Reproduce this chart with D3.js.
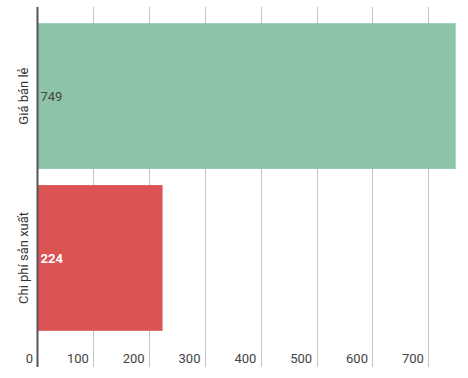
<!DOCTYPE html>
<html>
<head>
<meta charset="utf-8">
<script src="https://cdn.jsdelivr.net/npm/d3@7"></script>
<style>
  body { margin: 0; background: #fff; }
  svg { display: block; font-family: Roboto, sans-serif; }
</style>
</head>
<body>
<div id="chart"></div>
<script>
// data
const categories = ["Giá bán lẻ", "Chi phí sản xuất"];
const values = [749, 224];
const barColors = ["#8dc4a8", "#dc5353"];
const labelColors = ["#444", "#fff"];
const labelWeights = ["normal", "bold"];
const xTicks = [0, 100, 200, 300, 400, 500, 600, 700];

const width = 468, height = 378;
const margin = {top: 7, left: 37.5, right: 0, bottom: 31};

const svg = d3.select("#chart").append("svg")
    .attr("width", width)
    .attr("height", height);

const x = d3.scaleLinear()
    .domain([0, 100])
    .range([margin.left, margin.left + 55.83]);

const y = d3.scaleBand()
    .domain(categories)
    .range([margin.top, height - margin.bottom])
    .paddingInner(0.1)
    .paddingOuter(0.1);

// gridlines
svg.append("g")
    .selectAll("line")
    .data(xTicks.slice(1))
    .enter().append("line")
    .attr("x1", d => Math.round(x(d)) + 0.5)
    .attr("x2", d => Math.round(x(d)) + 0.5)
    .attr("y1", margin.top)
    .attr("y2", 367)
    .attr("stroke", "#c4c4c4")
    .attr("stroke-width", 1);

// tick labels
svg.append("g")
    .selectAll("text")
    .data(xTicks)
    .enter().append("text")
    .attr("x", d => x(d) - 4.5)
    .attr("y", 363)
    .attr("text-anchor", "end")
    .attr("font-size", 13)
    .attr("fill", "#444")
    .text(d => d);

// bars
svg.append("g")
    .selectAll("rect")
    .data(values)
    .enter().append("rect")
    .attr("x", x(0))
    .attr("y", (d, i) => y(categories[i]))
    .attr("width", d => x(d) - x(0))
    .attr("height", y.bandwidth())
    .attr("fill", (d, i) => barColors[i]);

// value labels
svg.append("g")
    .selectAll("text")
    .data(values)
    .enter().append("text")
    .attr("x", x(0) + 3)
    .attr("y", (d, i) => y(categories[i]) + y.bandwidth() / 2)
    .attr("dy", "0.35em")
    .attr("font-size", 13)
    .attr("font-weight", (d, i) => labelWeights[i])
    .attr("fill", (d, i) => labelColors[i])
    .text(d => d);

// category labels
svg.append("g")
    .selectAll("text")
    .data(categories)
    .enter().append("text")
    .attr("transform", d => "translate(28," + (y(d) + y.bandwidth() / 2) + ")rotate(-90)")
    .attr("text-anchor", "middle")
    .attr("font-size", 13)
    .attr("fill", "#333")
    .text(d => d);

// axis line
svg.append("line")
    .attr("x1", 37.5).attr("x2", 37.5)
    .attr("y1", margin.top).attr("y2", 367)
    .attr("stroke", "#555")
    .attr("stroke-width", 2);
</script>
</body>
</html>
